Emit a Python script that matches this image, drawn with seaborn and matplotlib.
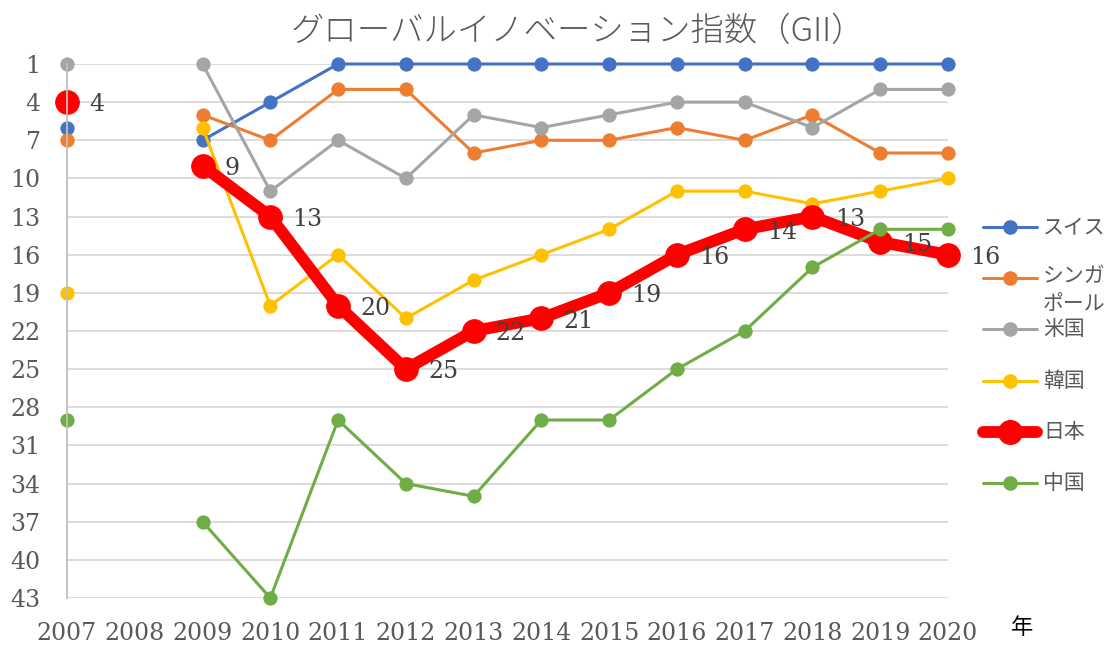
import numpy as np
import pandas as pd
import matplotlib
matplotlib.use("Agg")
import matplotlib.pyplot as plt
from matplotlib.lines import Line2D
import seaborn as sns

years = [2007, 2008, 2009, 2010, 2011, 2012, 2013, 2014, 2015, 2016, 2017, 2018, 2019, 2020]
nan = np.nan
swiss = [6, nan, 7, 4, 1, 1, 1, 1, 1, 1, 1, 1, 1, 1]
singapore = [7, nan, 5, 7, 3, 3, 8, 7, 7, 6, 7, 5, 8, 8]
usa = [1, nan, 1, 11, 7, 10, 5, 6, 5, 4, 4, 6, 3, 3]
korea = [19, nan, 6, 20, 16, 21, 18, 16, 14, 11, 11, 12, 11, 10]
japan = [4, nan, 9, 13, 20, 25, 22, 21, 19, 16, 14, 13, 15, 16]
china = [29, nan, 37, 43, 29, 34, 35, 29, 29, 25, 22, 17, 14, 14]

series_names = ["スイス", "シンガポール", "米国", "韓国", "日本", "中国"]
series_values = [swiss, singapore, usa, korea, japan, china]
colors = ["#4472C4", "#ED7D31", "#A5A5A5", "#FFC000", "#FF0000", "#70AD47"]
yticks = list(range(1, 44, 3))

sns.set_theme(style="white")
plt.rcParams["font.family"] = ["DejaVu Serif", "Noto Sans CJK JP"]

# long table, split into segments at the missing year so lines break there
rows = []
for name, vals in zip(series_names, series_values):
    for yr, v in zip(years, vals):
        if not np.isnan(v):
            rows.append({"year": yr, "rank": v, "country": name, "seg": 0 if yr < 2008 else 1})
df = pd.DataFrame(rows)

fig = plt.figure(figsize=(11.15, 6.45), dpi=100)
ax = fig.add_axes([67 / 1115, 1 - 598 / 645, 881 / 1115, 534 / 645])

for name, color in zip(series_names, colors):
    sub = df[df["country"] == name]
    big = name == "日本"
    sns.lineplot(data=sub, x="year", y="rank", units="seg", estimator=None, ax=ax,
                 color=color, lw=8.5 if big else 2.2, marker="o",
                 markersize=17 if big else 9.5, markeredgecolor=color,
                 clip_on=False, legend=False)

# data labels for Japan
for yr, v in zip(years, japan):
    if not np.isnan(v):
        ax.annotate(f"{int(v)}", (yr, v), xytext=(16, -2), textcoords="offset points",
                    ha="left", va="center", fontsize=17, color="#404040",
                    family="DejaVu Serif")

ax.set_xlim(2007, 2020)
ax.set_ylim(43, 1)
ax.set_yticks(yticks)
ax.set_xticks(years)
ax.set_xticklabels([str(y) for y in years])
ax.tick_params(axis="y", length=0, pad=19, labelsize=17, labelcolor="#595959")
ax.tick_params(axis="x", length=0, pad=17, labelsize=17, labelcolor="#595959")
ax.set_xlabel("")
ax.set_ylabel("")
ax.grid(axis="y", color="#d9d9d9", lw=1.3)
ax.grid(axis="x", visible=False)
for s in ["top", "right", "bottom"]:
    ax.spines[s].set_visible(False)
ax.spines["left"].set_color("#bfbfbf")
ax.spines["left"].set_linewidth(1.3)
ax.set_axisbelow(True)

fig.text(578 / 1115, 1 - 32 / 645, "グローバルイノベーション指数（GII）", ha="center", va="center",
         fontsize=24, color="#595959", family=["Noto Sans CJK JP", "DejaVu Sans"], fontweight="light")
fig.text(1022 / 1115, 1 - 628 / 645, "年", ha="center", va="center", fontsize=16,
         color="black", family="Noto Sans CJK JP")

# legend, drawn by hand so the wrapped label overlaps like the original
leg_y = [227, 278, 329, 381, 432, 483]
leg_labels = ["スイス", "シンガ\nポール", "米国", "韓国", "日本", "中国"]
for lab, y, color in zip(leg_labels, leg_y, colors):
    big = lab == "日本"
    yy = 1 - y / 645
    fig.add_artist(Line2D([983 / 1115, 1037 / 1115], [yy, yy], transform=fig.transFigure,
                          color=color, lw=8.5 if big else 2.2, solid_capstyle="round"))
    fig.add_artist(Line2D([1010 / 1115], [yy], transform=fig.transFigure, color=color,
                          marker="o", markersize=17 if big else 9.5, markeredgecolor=color))
    if "\n" in lab:
        fig.text(1043 / 1115, yy + 13 / 645, lab, ha="left", va="top", fontsize=15,
                 color="#595959", family="Noto Sans CJK JP", linespacing=1.35)
    else:
        fig.text(1043 / 1115, yy, lab, ha="left", va="center", fontsize=15,
                 color="#595959", family="Noto Sans CJK JP")

fig.savefig("out.png", dpi=100)
